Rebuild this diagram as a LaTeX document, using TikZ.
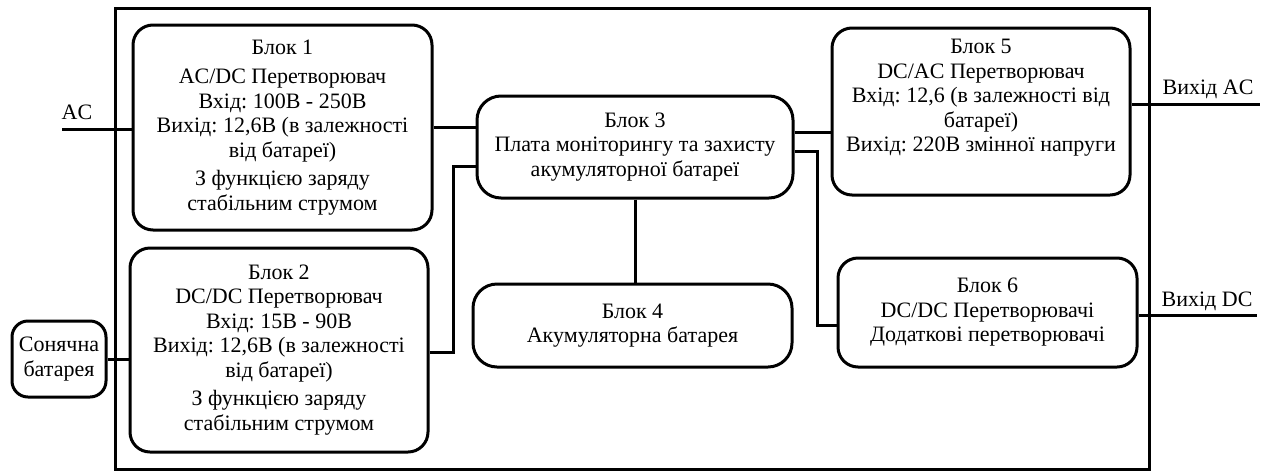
\documentclass[tikz,border=0pt]{standalone}
\usepackage{fontspec}
\setmainfont{Liberation Serif}
\frenchspacing
\begin{document}
\begin{tikzpicture}[x=1pt,y=-1pt,
  every node/.style={font=\fontsize{22}{24.5}\selectfont},
  blk/.style={draw,line width=3pt,rounded corners=20pt,align=center,inner sep=0pt},
  wire/.style={line width=3pt},
  frm/.style={draw,line width=3pt,inner sep=0pt}]
\useasboundingbox (0,0) rectangle (1268,472);
\node[frm,minimum width=1034pt,minimum height=461pt] (frame) at (632,238.5) {};
\node[blk,minimum width=299pt,minimum height=205pt] (b1) at (282.5,127.5)
  {Блок 1\\[5pt] AC/DC Перетворювач\\ Вхід: 100В - 250В\\ Вихід: 12,6В (в залежності\\ від батареї)\\[4pt] З функцією заряду\\ стабільним струмом};
\node[blk,minimum width=298pt,minimum height=204pt] (b2) at (279,350)
  {Блок 2\\ DC/DC Перетворювач\\ Вхід: 15В - 90В\\ Вихід: 12,6В (в залежності\\ від батареї)\\[4pt] З функцією заряду\\ стабільним струмом};
\node[blk,rounded corners=16pt,minimum width=94pt,minimum height=76pt] (sun) at (59,359)
  {Сонячна\\ батарея};
\node[blk,rounded corners=24pt,minimum width=316pt,minimum height=102pt] (b3) at (635,147)
  {Блок 3\\ Плата моніторингу та захисту\\ акумуляторної батареї};
\node[blk,rounded corners=24pt,minimum width=319pt,minimum height=83pt] (b4) at (632.5,325.5)
  {Блок 4\\ Акумуляторна батарея};
\node[blk,minimum width=298pt,minimum height=167pt] (b5) at (981,111.5)
  {Блок 5\\ DC/AC Перетворювач\\ Вхід: 12,6 (в залежності від\\ батареї)\\ Вихід: 220В змінної напруги\\ \strut};
\node[blk,minimum width=299pt,minimum height=109pt] (b6) at (987.5,312.5)
  {Блок 6\\ DC/DC Перетворювачі\\ Додаткові перетворювачі};
% external connections
\coordinate (acin) at (62,129);
\draw[wire] (acin) -- (acin -| b1.west);
\node (aclbl) at (77,112) {AC};
\coordinate (acout) at (1260,104);
\draw[wire] ([yshift=7.5pt]b5.east) -- (acout);
\node (acoutlbl) at (1208,89) {Вихід AC};
\coordinate (dcout) at (1257,315);
\draw[wire] ([yshift=-2.5pt]b6.east) -- (dcout);
\node (dcoutlbl) at (1207,301) {Вихід DC};
% internal connections
\draw[wire] (sun.east) -- (sun.east -| b2.west);
\draw[wire] (b1.east) -- (b1.east -| b3.west);
\draw[wire] ([yshift=-2pt]b2.east) -- ++(24,0) |- ([yshift=-19pt]b3.west);
\draw[wire] (b3.south) -- (b3.south |- b4.north);
\draw[wire] ([yshift=15pt]b3.east) -- ([yshift=15pt]b3.east -| b5.west);
\draw[wire] ([yshift=-4pt]b3.east) -- ++(23,0) |- ([yshift=-12.5pt]b6.west);
\end{tikzpicture}
\end{document}
